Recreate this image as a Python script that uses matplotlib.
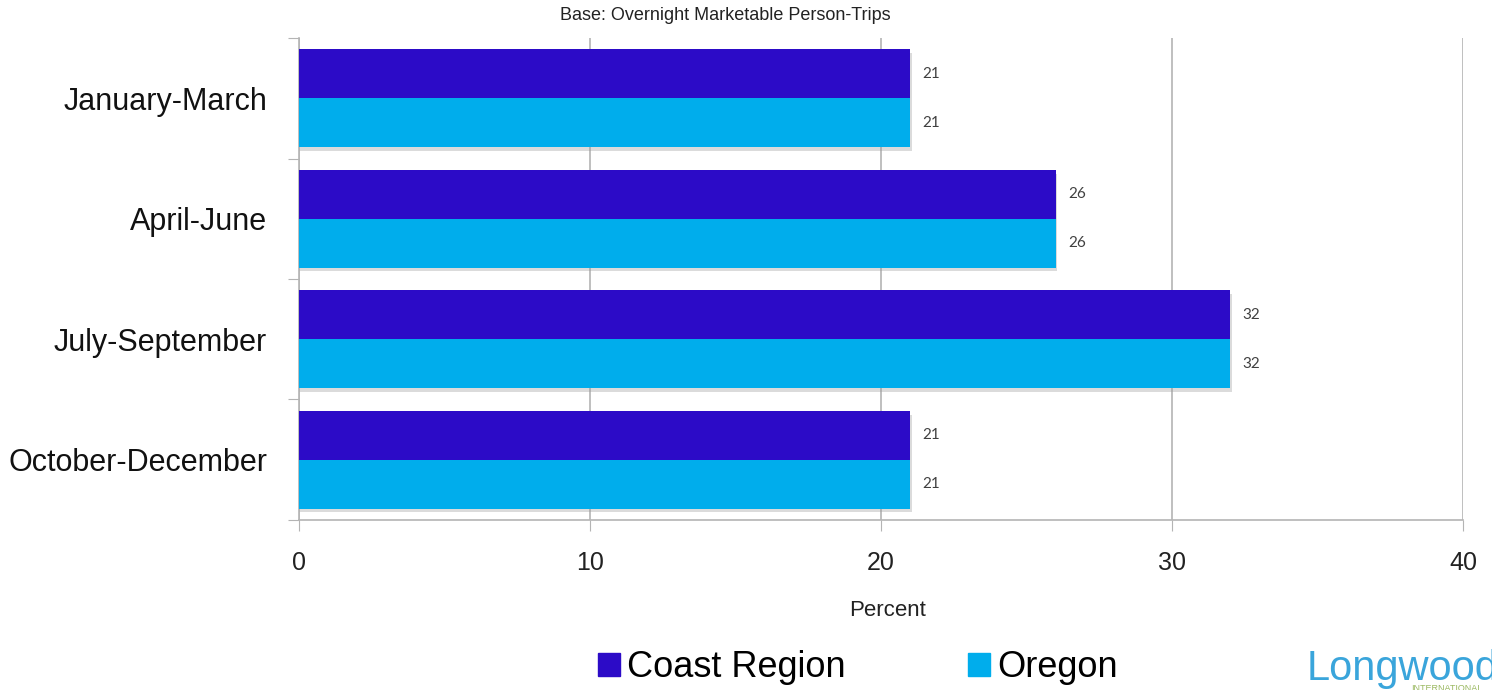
import matplotlib.pyplot as plt
from matplotlib.patches import Patch

periods = ['January-March', 'April-June', 'July-September', 'October-December']
coast = [21, 26, 32, 21]
oregon = [21, 26, 32, 21]
series_names = ['Coast Region', 'Oregon']
x_ticks = [0, 10, 20, 30, 40]

dark = '#2c0bc7'
light = '#00adec'
grid_col = '#b4b4b4'

plt.rcParams['font.family'] = ['Liberation Sans', 'DejaVu Sans']

fig = plt.figure(figsize=(14.92, 6.9), dpi=100)
ax = fig.add_axes([0.2004, 0.2464, 0.7802, 0.6985])

h = 0.405
ys = range(len(periods))
for i in ys:
    # soft drop shadow under each pair of bars
    ax.barh(i + 0.03, coast[i] + 0.05, height=2 * h, left=0.0,
            color='#9a9a9a', alpha=0.35, zorder=2)
    ax.barh(i - h / 2, coast[i], height=h, color=dark, zorder=3)
    ax.barh(i + h / 2, oregon[i], height=h, color=light, zorder=3)
    for yy, v in ((i - h / 2, coast[i]), (i + h / 2, oregon[i])):
        ax.annotate(str(v), (v, yy), xytext=(9, 0), textcoords='offset points',
                    va='center', ha='left', fontsize=11, color='#404040',
                    family=['Lato', 'DejaVu Sans'])

ax.set_xlim(0, 40)
ax.set_ylim(len(periods) - 0.5, -0.5)
ax.set_xticks(x_ticks)
ax.set_xticklabels([str(t) for t in x_ticks], fontsize=18, color='#222222')
ax.tick_params(axis='x', length=8, color=grid_col, pad=14)

ax.set_yticks([i - 0.5 for i in range(len(periods) + 1)])
ax.set_yticklabels([])
ax.tick_params(axis='y', which='major', length=8, color=grid_col)
ax.set_yticks(list(ys), minor=True)
ax.set_yticklabels(periods, minor=True, fontsize=22, color='#111111')
ax.tick_params(axis='y', which='minor', length=0, pad=23)

ax.grid(axis='x', color=grid_col, linewidth=1.2, zorder=0)
for s in ('top', 'right'):
    ax.spines[s].set_visible(False)
for s in ('left', 'bottom'):
    ax.spines[s].set_color(grid_col)
    ax.spines[s].set_linewidth(1.2)

ax.set_xlabel('Percent', fontsize=16, color='#222222', labelpad=16)
ax.xaxis.set_label_coords(0.506, -0.165)
fig.text(0.486, 0.978, 'Base: Overnight Marketable Person-Trips',
         ha='center', va='center', fontsize=13, color='#222222')

handles = [Patch(color=dark), Patch(color=light)]
fig.legend(handles, series_names, loc='lower center', ncol=2,
           bbox_to_anchor=(0.575, -0.04), frameon=False, fontsize=26,
           handlelength=0.6, handleheight=0.6, handletextpad=0.2,
           columnspacing=3.4)

fig.text(0.876, 0.03, 'Longwood', fontsize=30, color='#3aa5db',
         ha='left', va='center')
fig.text(0.946, -0.004, 'INTERNATIONAL', fontsize=6.5, color='#9ab860',
         ha='left', va='bottom')

fig.savefig('out.png', dpi=100)
